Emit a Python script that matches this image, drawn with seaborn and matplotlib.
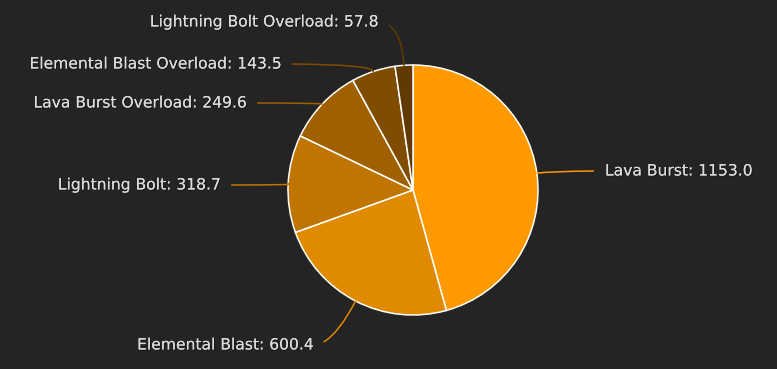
import numpy as np
import seaborn as sns
import matplotlib.pyplot as plt
import matplotlib.patheffects as pe

spells = ["Lava Burst", "Elemental Blast", "Lightning Bolt",
          "Lava Burst Overload", "Elemental Blast Overload", "Lightning Bolt Overload"]
damage = [1153.0, 600.4, 318.7, 249.6, 143.5, 57.8]

# slice colours, light to dark orange
colors = ["#ff9900", "#e08a00", "#c07500", "#a06000", "#804d00", "#603a00"]

# where the labels sit (pixels from top-left) and which side the text hangs from
label_xy = [(605, 171), (313, 345), (220, 185), (246, 103), (281, 64), (378, 22)]
label_ha = ["left", "right", "right", "right", "right", "right"]

W, H = 777, 369
bg = "#242424"

sns.set_style("dark", {"axes.facecolor": bg, "figure.facecolor": bg})
plt.rcParams['font.family'] = ['DejaVu Sans']

fig = plt.figure(figsize=(W / 100, H / 100), dpi=100)
ax = fig.add_axes([0, 0, 1, 1])
ax.set_facecolor(bg)

cx, cy, r = 413, H - 190, 125
wedges, _ = ax.pie(damage, colors=colors, startangle=90, counterclock=False,
                   center=(cx, cy), radius=r, frame=True,
                   wedgeprops=dict(edgecolor="white", linewidth=1.1))

shadow = [pe.withSimplePatchShadow(offset=(0.6, -0.6), shadow_rgbFace="black", alpha=0.5), pe.Normal()]

for w, name, val, (lx, ly), ha, col in zip(wedges, spells, damage, label_xy, label_ha, colors):
    mid = np.deg2rad((w.theta1 + w.theta2) / 2)
    ex, ey = cx + r * np.cos(mid), cy + r * np.sin(mid)
    ang = np.rad2deg(mid)
    ax.annotate(f"{name}: {val:.1f}", xy=(ex, ey), xytext=(lx, H - ly),
                ha=ha, va="center", fontsize=11.2, color="#dcdcdf",
                path_effects=shadow,
                arrowprops=dict(arrowstyle="-", color=col, lw=1.1,
                                relpos=(0 if ha == "left" else 1, 0.5),
                                shrinkA=6, shrinkB=0,
                                connectionstyle=f"angle3,angleA=0,angleB={ang:.1f}"))

ax.set_xlim(0, W)
ax.set_ylim(0, H)
ax.set_aspect("equal")
ax.set_xticks([])
ax.set_yticks([])
for s in ax.spines.values():
    s.set_visible(False)

fig.savefig("out.png", dpi=100, facecolor=bg)
